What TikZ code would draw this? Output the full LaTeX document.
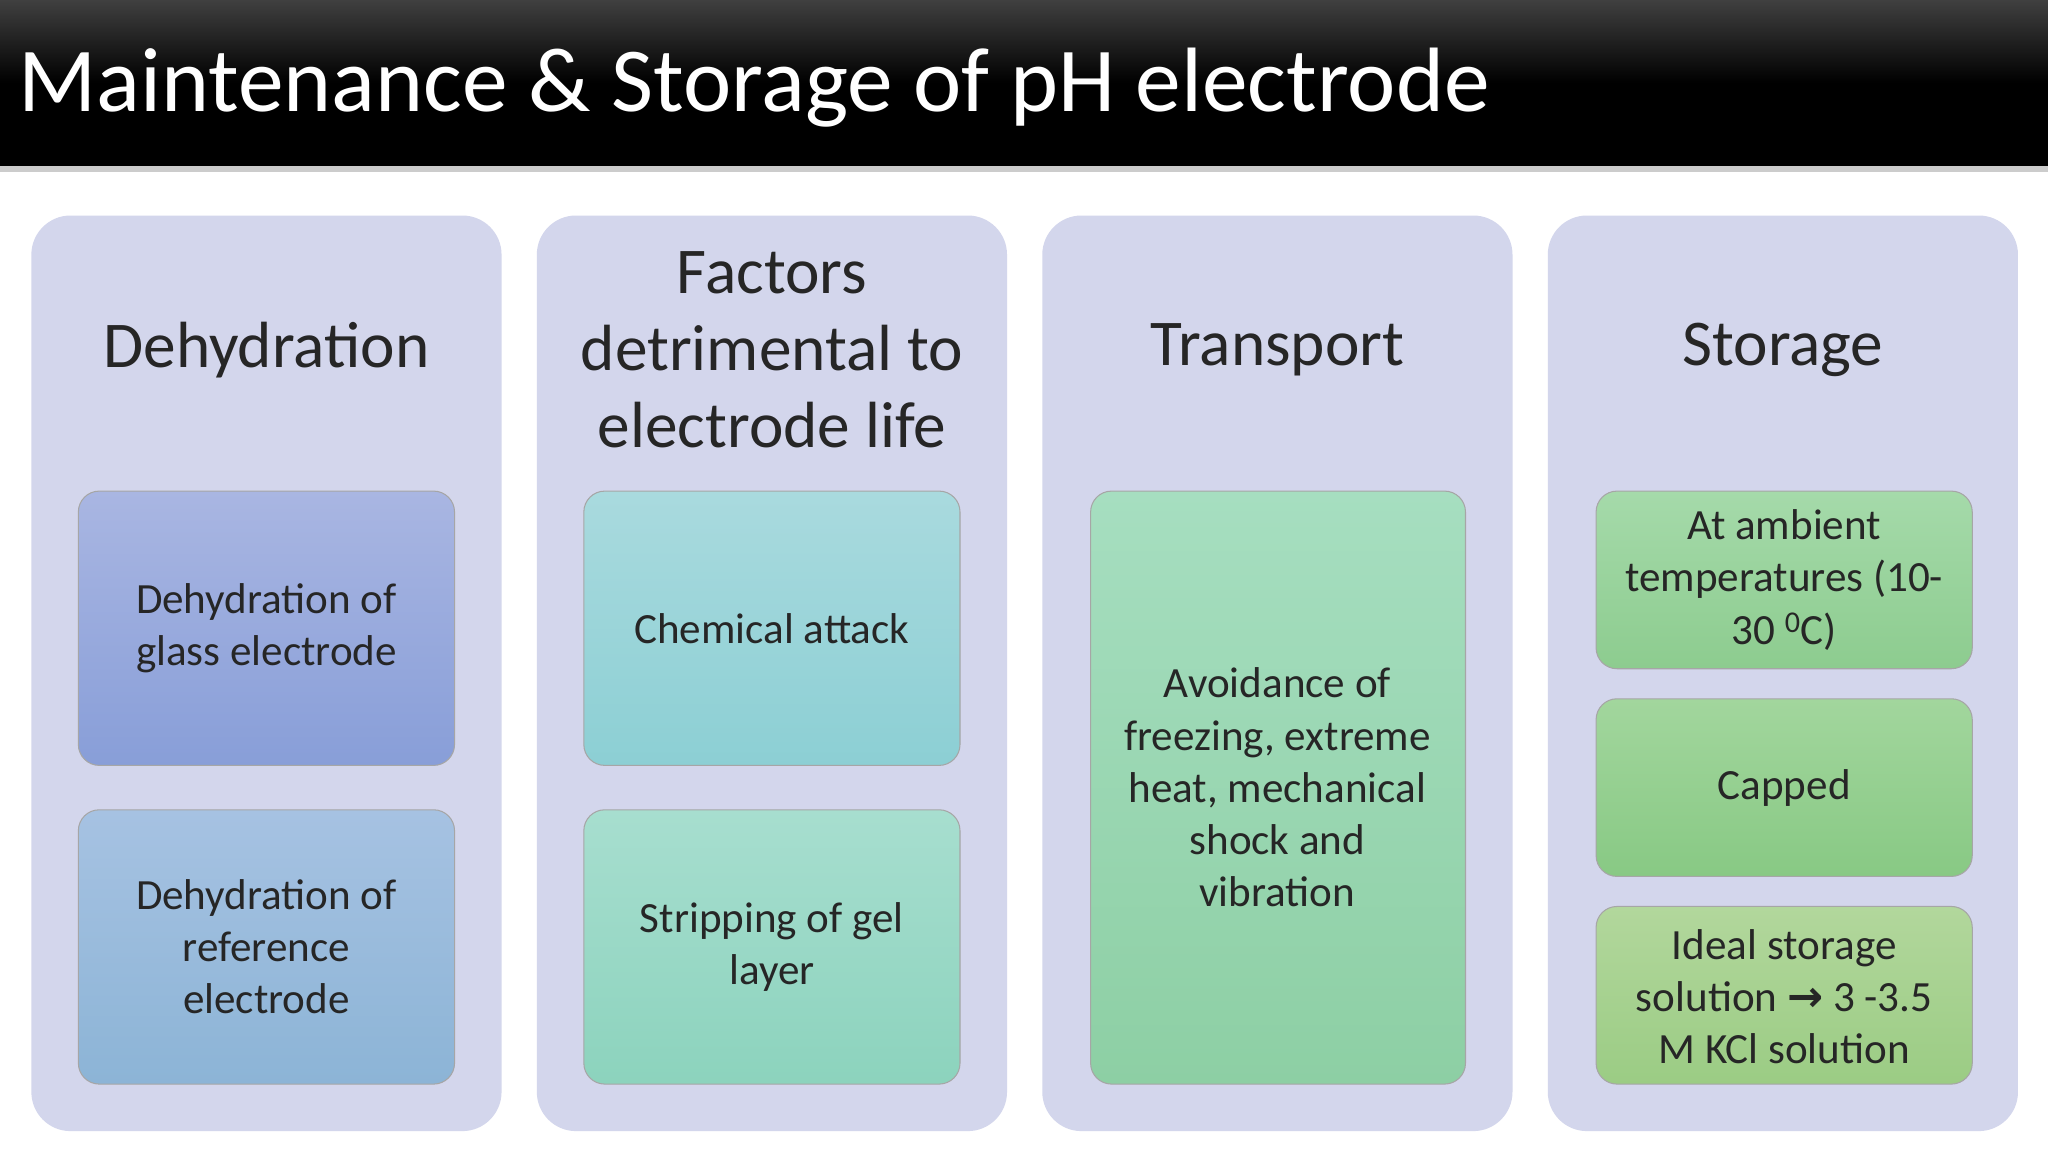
\documentclass[tikz,border=0pt]{standalone}
\usepackage{fontspec}
\setmainfont{Carlito}
\newfontfamily\arrowfont{DejaVu Sans}
\begin{document}
\begin{tikzpicture}[x=1pt,y=-1pt,
  col/.style={fill=colbg,rounded corners=30pt},
  inner/.style={draw=gray!70,line width=0.8pt,rounded corners=16pt},
  head/.style={font=\fontsize{50}{59}\selectfont,align=center,text=black!85},
  btxt/.style={font=\fontsize{33}{40}\selectfont,align=center,text=black!85}]
\definecolor{colbg}{HTML}{D3D6EC}
\useasboundingbox (0,0) rectangle (1568,882);
\fill[white] (0,0) rectangle (1568,882);
\fill[gray!40] (0,124) rectangle (1568,132);
\shade[top color=black!75,bottom color=black,middle color=black] (0,0) rectangle (1568,127);
\node[anchor=base west,text=white,font=\fontsize{70}{80}\selectfont,inner sep=0] (title) at (14,85) {Maintenance \& Storage of pH electrode};
% columns
\foreach \x/\n in {24/c1,411/c2,798/c3,1185/c4}{
  \fill[col] (\x,165) rectangle ++(360,701);
}
\node[head] (h1) at (204,268) {Dehydration};
\node[head] (h2) at (591,268) {Factors\\detrimental to\\electrode life};
\node[head] (h3) at (978,268) {Transport};
\node[head] (h4) at (1365,268) {Storage};
% boxes
\def\bx#1#2#3#4#5#6#7{\shade[inner,top color=#5,bottom color=#6] (#1,#2) rectangle (#3,#4);
  \node[btxt] (#7) at ({(#1+#3)/2},{(#2+#4)/2}) {\strut};}
\definecolor{a1}{HTML}{A9B6E2}\definecolor{a2}{HTML}{889ED8}
\definecolor{b1}{HTML}{A6C2E2}\definecolor{b2}{HTML}{8CB4D6}
\definecolor{c1}{HTML}{A9DADE}\definecolor{c2}{HTML}{8CCFD4}
\definecolor{d1}{HTML}{A7DECF}\definecolor{d2}{HTML}{8CD3BD}
\definecolor{e1}{HTML}{A6DEC0}\definecolor{e2}{HTML}{8DCFA4}
\definecolor{f1}{HTML}{A5DAAA}\definecolor{f2}{HTML}{8DCC8F}
\definecolor{g1}{HTML}{A2D69D}\definecolor{g2}{HTML}{88C984}
\definecolor{h1c}{HTML}{B2D79C}\definecolor{h2c}{HTML}{9BCC84}
\shade[inner,top color=a1,bottom color=a2] (60,376) rectangle (348,586);
\shade[inner,top color=b1,bottom color=b2] (60,620) rectangle (348,830);
\shade[inner,top color=c1,bottom color=c2] (447,376) rectangle (735,586);
\shade[inner,top color=d1,bottom color=d2] (447,620) rectangle (735,830);
\shade[inner,top color=e1,bottom color=e2] (835,376) rectangle (1122,830);
\shade[inner,top color=f1,bottom color=f2] (1222,376) rectangle (1510,512);
\shade[inner,top color=g1,bottom color=g2] (1222,535) rectangle (1510,671);
\shade[inner,top color=h1c,bottom color=h2c] (1222,694) rectangle (1510,830);
\node[btxt] (t1) at (204,481) {Dehydration of\\glass electrode};
\node[btxt] (t2) at (204,725) {Dehydration of\\reference\\electrode};
\node[btxt] (t3) at (591,481) {Chemical attack};
\node[btxt] (t4) at (591,725) {Stripping of gel\\layer};
\node[btxt] (t5) at (978,603) {Avoidance of\\freezing, extreme\\heat, mechanical\\shock and\\vibration};
\node[btxt] (t6) at (1366,444) {At ambient\\temperatures (10-\\30 \textsuperscript{0}C)};
\node[btxt] (t7) at (1366,603) {Capped};
\node[btxt] (t8) at (1366,763) {Ideal storage\\solution {\arrowfont\bfseries →} 3 -3.5\\M KCl solution};
\end{tikzpicture}
\end{document}
